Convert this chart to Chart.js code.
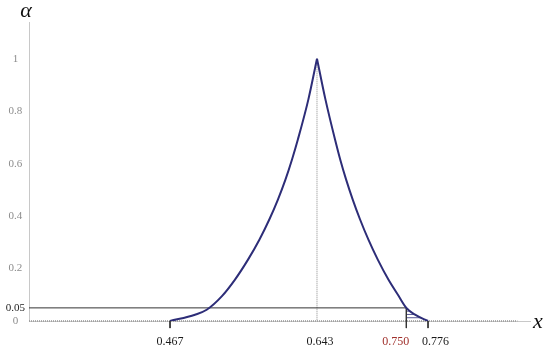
<!DOCTYPE html>
<html>
<head>
<meta charset="utf-8">
<script src="https://cdn.jsdelivr.net/npm/chart.js@4"></script>
<style>
  html, body { margin: 0; padding: 0; background: #ffffff; }
  canvas { display: block; }
</style>
</head>
<body>
<canvas id="c" width="550" height="355"></canvas>
<script>
// ---- data ----
const leftX  = [0.467, 0.4969, 0.5109, 0.5289, 0.5448, 0.5604, 0.5740, 0.5859, 0.5962, 0.6052, 0.6131, 0.6201, 0.6327, 0.643];
const leftA  = [0,     0.024,  0.043,  0.094,  0.158,  0.234,  0.310,  0.387,  0.463,  0.539,  0.616,  0.692,  0.845,  1];
const rightX = [0.643, 0.6531, 0.6646, 0.6708, 0.6779, 0.6858, 0.6946, 0.7046, 0.7158, 0.7285, 0.7405, 0.750, 0.7604, 0.776];
const rightA = [1,     0.845,  0.692,  0.616,  0.539,  0.463,  0.387,  0.310,  0.234,  0.158,  0.097,  0.05,  0.024,  0];

const alphaLevel = 0.05;
const peakX = 0.643;
const cutX = 0.750;
const xMin = 0.2981, xMax = 0.8981;
const xTickValues = [0.467, 0.643, 0.750, 0.776];
const xTickLabels = ['0.467', '0.643', '0.750', '0.776'];
const yTickValues = [0, 0.05, 0.2, 0.4, 0.6, 0.8, 1];
const yTickLabels = ['0', '0.05', '0.2', '0.4', '0.6', '0.8', '1'];
const hatchLevels = [0.0125, 0.025, 0.0375];

// ---- helpers ----
const pts = (xs, ys) => xs.map((x, i) => ({ x: x, y: ys[i] }));
function rightCurveXAt(a) {
  for (let i = 0; i < rightA.length - 1; i++) {
    const a0 = rightA[i], a1 = rightA[i + 1];
    if ((a0 - a) * (a1 - a) <= 0 && a0 !== a1) {
      const t = (a - a0) / (a1 - a0);
      return rightX[i] + t * (rightX[i + 1] - rightX[i]);
    }
  }
  return rightX[rightX.length - 1];
}
const tickDrop = -0.027;
const navy = '#2d2d78';

const datasets = [
  { data: pts(leftX, leftA), borderColor: navy, borderWidth: 2, cubicInterpolationMode: 'monotone' },
  { data: pts(rightX, rightA), borderColor: navy, borderWidth: 2, cubicInterpolationMode: 'monotone' },
  // alpha = 0.05 line
  { data: [{ x: xMin, y: alphaLevel }, { x: cutX, y: alphaLevel }], borderColor: '#333333', borderWidth: 1 },
  // vertical at 0.750
  { data: [{ x: cutX, y: alphaLevel }, { x: cutX, y: tickDrop }], borderColor: '#333333', borderWidth: 1, clip: false },
  // ticks at 0.467 and 0.776
  { data: [{ x: leftX[0], y: 0 }, { x: leftX[0], y: tickDrop }], borderColor: '#333333', borderWidth: 1, clip: false },
  { data: [{ x: rightX[rightX.length - 1], y: 0 }, { x: rightX[rightX.length - 1], y: tickDrop }], borderColor: '#333333', borderWidth: 1, clip: false },
  // dotted vertical at peak
  { data: [{ x: peakX, y: 1 }, { x: peakX, y: 0 }], borderColor: '#8a8a8a', borderWidth: 1, borderDash: [1, 1] },
  // dotted alpha = 0 line
  { data: [{ x: xMin, y: 0 }, { x: 0.883, y: 0 }], borderColor: '#9a9a9a', borderWidth: 1.6, borderDash: [1, 1], clip: false }
];
hatchLevels.forEach(a => {
  datasets.push({ data: [{ x: cutX, y: a }, { x: rightCurveXAt(a), y: a }], borderColor: navy, borderWidth: 0.8 });
});
datasets.forEach(d => { d.pointRadius = 0; d.fill = false; if (!d.cubicInterpolationMode) { d.cubicInterpolationMode = 'default'; d.tension = 0; } });

const xTickShift = ['', '  ', '', '     '];
const xTickTrail = ['', '', '       ', ''];

const axisLetters = {
  id: 'axisLetters',
  afterDraw(chart) {
    const ctx = chart.ctx;
    ctx.save();
    ctx.fillStyle = '#111111';
    ctx.font = 'italic 22px "Liberation Serif"';
    ctx.textAlign = 'center';
    ctx.textBaseline = 'alphabetic';
    ctx.fillText('α', 26, 17);
    ctx.fillText('x', 538, 328);
    ctx.restore();
  }
};

new Chart(document.getElementById('c'), {
  type: 'line',
  data: { datasets: datasets },
  plugins: [axisLetters],
  options: {
    responsive: false,
    animation: false,
    events: [],
    layout: { padding: { left: 0, right: 20, top: 22, bottom: 0 } },
    plugins: { legend: { display: false }, tooltip: { enabled: false } },
    scales: {
      x: {
        type: 'linear', min: xMin, max: xMax,
        afterFit(s) { s.height = 34; },
        afterBuildTicks(s) { s.ticks = xTickValues.map(v => ({ value: v })); },
        grid: { display: false, drawTicks: false },
        border: { display: true, color: '#c8c8c8', width: 1 },
        ticks: {
          autoSkip: false, maxRotation: 0, minRotation: 0, padding: 14,
          font: { family: 'Liberation Serif', size: 12 },
          color: ctx => (ctx.index === 2 ? '#a0302c' : '#1a1a1a'),
          callback: (v, i) => xTickShift[i] + xTickLabels[i] + xTickTrail[i]
        }
      },
      y: {
        type: 'linear', min: 0, max: 1.14,
        afterFit(s) { s.width = 29; },
        afterBuildTicks(s) { s.ticks = yTickValues.map(v => ({ value: v })); },
        grid: { display: false, drawTicks: false },
        border: { display: true, color: '#c8c8c8', width: 1 },
        ticks: {
          autoSkip: false, crossAlign: 'center', padding: 4,
          font: { family: 'Liberation Serif', size: 11 },
          color: ctx => (ctx.index === 1 ? '#222222' : '#8c8c8c'),
          callback: (v, i) => yTickLabels[i]
        }
      }
    }
  }
});
</script>
</body>
</html>
